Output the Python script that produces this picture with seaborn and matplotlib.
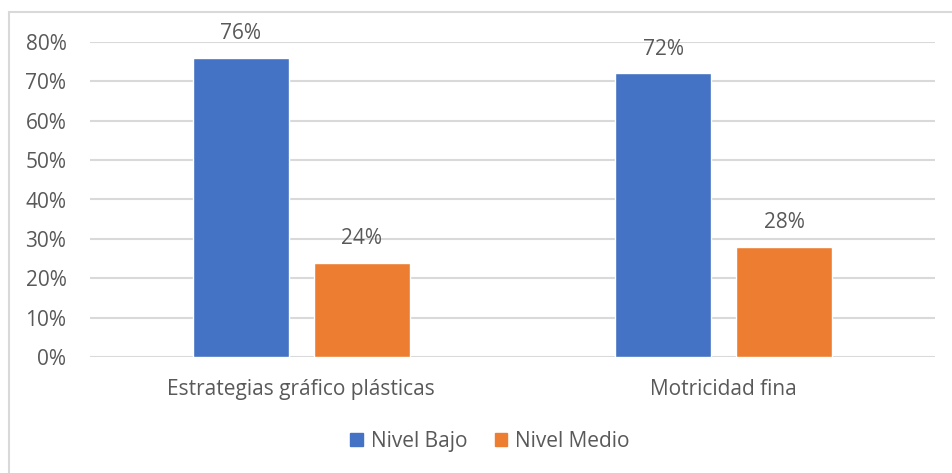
import matplotlib.pyplot as plt
import matplotlib.patches as mpatches
import pandas as pd
import seaborn as sns

categorias = ['Estrategias gráfico plásticas', 'Motricidad fina']
niveles = ['Nivel Bajo', 'Nivel Medio']
nivel_bajo = [0.76, 0.72]
nivel_medio = [0.24, 0.28]
y_ticks = [0, 0.1, 0.2, 0.3, 0.4, 0.5, 0.6, 0.7, 0.8]

df = pd.DataFrame({'categoria': categorias, 'Nivel Bajo': nivel_bajo, 'Nivel Medio': nivel_medio})
data = pd.melt(df, id_vars=['categoria'], value_vars=niveles, var_name='nivel', value_name='valor')

sns.set_style("white")
plt.rcParams['font.family'] = ['Open Sans', 'DejaVu Sans']
txt = '#595959'
fs = 15

fig = plt.figure(figsize=(9.52, 4.73), dpi=100)
ax = fig.add_axes([90/952, 1 - 357/473, 845/952, 315/473])

sns.barplot(data=data, x='categoria', y='valor', hue='nivel', order=categorias, hue_order=niveles,
            palette={'Nivel Bajo': '#4472C4', 'Nivel Medio': '#ED7D31'},
            width=0.573, gap=0.207, saturation=1, ax=ax, legend=False)

for c in ax.containers:
    ax.bar_label(c, labels=[f'{v*100:.0f}%' for v in c.datavalues], padding=10, fontsize=fs, color=txt)

ax.set_ylim(0, 0.8)
ax.set_xlim(-0.5, 1.5)
ax.set_yticks(y_ticks)
ax.set_yticklabels([f'{t*100:.0f}%' for t in y_ticks], fontsize=fs, color=txt)
ax.tick_params(axis='x', labelsize=fs, labelcolor=txt, length=0, pad=16)
ax.tick_params(axis='y', length=0, pad=17)
ax.yaxis.grid(True, color='#D9D9D9', linewidth=1.5)
ax.set_axisbelow(True)
for s in ax.spines.values():
    s.set_visible(False)
ax.set_xlabel('')
ax.set_ylabel('')

handles = [mpatches.Patch(color='#4472C4', label='Nivel Bajo'),
           mpatches.Patch(color='#ED7D31', label='Nivel Medio')]
leg = fig.legend(handles=handles, loc='center', bbox_to_anchor=(490/952, 1 - 441/473), ncol=2,
                 frameon=False, fontsize=fs, handlelength=0.6, handleheight=0.6,
                 handletextpad=0.4, columnspacing=1.3)
for t in leg.get_texts():
    t.set_color(txt)

fig.patches.append(mpatches.Rectangle((9/952, -0.1), 1.2, 1 - 12/473 + 0.1, transform=fig.transFigure,
                                      fill=False, edgecolor='#D9D9D9', linewidth=1.5))

plt.savefig('out.png', dpi=100)
